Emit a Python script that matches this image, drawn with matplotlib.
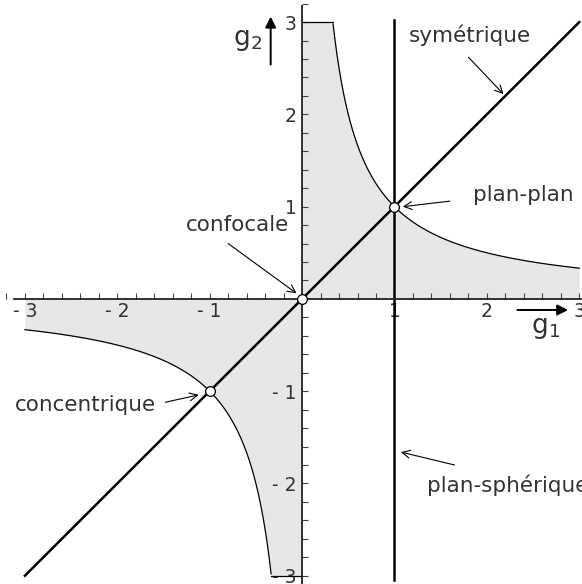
import numpy as np
import matplotlib.pyplot as plt
from matplotlib.ticker import MultipleLocator, FixedLocator

# stability diagram of an optical resonator: 0 <= g1*g2 <= 1
g_lim = 3.0
tick_values = [-3, -2, -1, 1, 2, 3]
tick_labels = ['- 3', '- 2', '- 1', '1', '2', '3']

# special resonators (g1, g2)
point_names = ['confocale', 'plan-plan', 'concentrique']
point_g1 = [0.0, 1.0, -1.0]
point_g2 = [0.0, 1.0, -1.0]

# annotation text positions and arrow tail/head (g1, g2)
labels = ['symétrique', 'plan-plan', 'confocale', 'concentrique', 'plan-sphérique']
label_xy = [(1.82, 2.86), (2.39, 1.13), (-0.70, 0.80), (-2.35, -1.15), (2.23, -2.02)]
arrow_tail = [(1.80, 2.62), (1.60, 1.06), (-0.80, 0.60), (-1.48, -1.12), (1.65, -1.80)]
arrow_head = [(2.18, 2.22), (1.09, 1.00), (-0.06, 0.06), (-1.12, -1.04), (1.07, -1.66)]

text_col = '#333333'
fill_col = '#e6e7e8'

fig = plt.figure(figsize=(5.82, 5.84), dpi=100)
ax = fig.add_axes([0, 0, 1, 1])
ax.set_xlim(-3.27, 3.03)
ax.set_ylim(-3.09, 3.24)

# stable region
g1 = np.linspace(0.0, g_lim, 600)
with np.errstate(divide='ignore'):
    g2 = np.minimum(g_lim, 1.0 / g1)
ax.fill_between(g1, 0, g2, color=fill_col, lw=0, zorder=0)
ax.fill_between(-g1, 0, -g2, color=fill_col, lw=0, zorder=0)
ax.plot(g1[g2 < g_lim], g2[g2 < g_lim], color='black', lw=0.9, zorder=2)
ax.plot(-g1[g2 < g_lim], -g2[g2 < g_lim], color='black', lw=0.9, zorder=2)
ax.plot([0, 1 / g_lim], [g_lim, g_lim], color='black', lw=0.9, zorder=2)
ax.plot([0, -1 / g_lim], [-g_lim, -g_lim], color='black', lw=0.9, zorder=2)

# symmetric and plane-spherical lines
ax.plot([-g_lim, g_lim], [-g_lim, g_lim], color='black', lw=1.8, zorder=3)
ax.plot([1, 1], [-3.05, 3.02], color='black', lw=1.8, zorder=3)

ax.plot(point_g1, point_g2, 'o', ms=7, mfc='white', mec='black', mew=0.9, zorder=5)

# axes through the origin
for s in ['top', 'right']:
    ax.spines[s].set_visible(False)
ax.spines['left'].set_position(('data', 0))
ax.spines['bottom'].set_position(('data', 0))
ax.spines['bottom'].set_bounds(-3.12, 3.05)
ax.spines['left'].set_bounds(-3.1, 3.18)
for s in ['left', 'bottom']:
    ax.spines[s].set_linewidth(1.3)
    ax.spines[s].set_color('#222222')
    ax.spines[s].set_zorder(4)

ax.xaxis.set_major_locator(FixedLocator(tick_values))
ax.yaxis.set_major_locator(FixedLocator(tick_values))
ax.set_xticklabels(tick_labels)
ax.set_yticklabels(tick_labels)
ax.xaxis.set_minor_locator(MultipleLocator(0.2))
ax.yaxis.set_minor_locator(MultipleLocator(0.2))
ax.tick_params(which='both', direction='in', length=4, width=0.8, color='#444444',
               labelsize=13.5, labelcolor=text_col)
ax.tick_params(axis='x', pad=2)
ax.tick_params(axis='y', pad=4)

for txt, xy, tail, head in zip(labels, label_xy, arrow_tail, arrow_head):
    ax.text(xy[0], xy[1], txt, ha='center', va='center', fontsize=15.5, color=text_col)
    ax.annotate('', xy=head, xytext=tail,
                arrowprops=dict(arrowstyle='->', lw=0.8, color='black',
                                shrinkA=0, shrinkB=0, mutation_scale=14))

# axis names with arrows
ax.text(-0.59, 2.81, 'g$_2$', ha='center', va='center', fontsize=19, color=text_col)
ax.annotate('', xy=(-0.34, 3.06), xytext=(-0.34, 2.54),
            arrowprops=dict(arrowstyle='-|>', lw=1.4, color='black',
                            shrinkA=0, shrinkB=0, mutation_scale=16))
ax.text(2.63, -0.32, 'g$_1$', ha='center', va='center', fontsize=19, color=text_col)
ax.annotate('', xy=(2.88, -0.12), xytext=(2.33, -0.12),
            arrowprops=dict(arrowstyle='-|>', lw=1.4, color='black',
                            shrinkA=0, shrinkB=0, mutation_scale=16))

fig.savefig('out.png', dpi=100)
